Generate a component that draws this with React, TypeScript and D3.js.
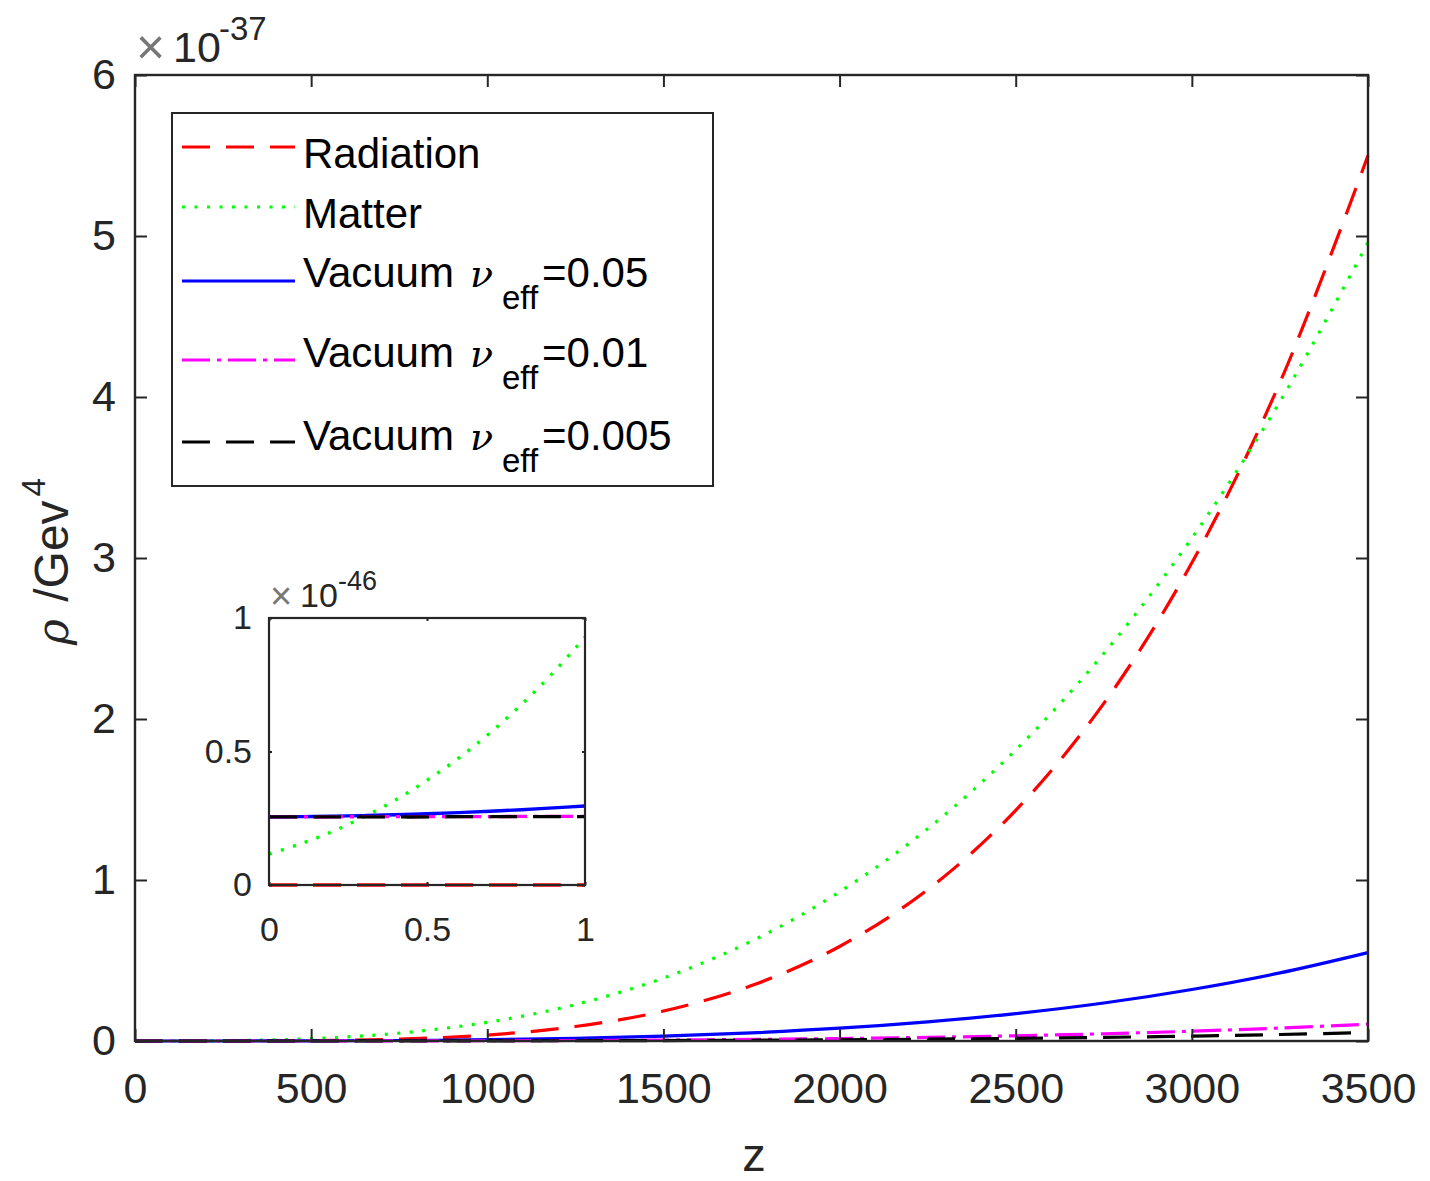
import { useEffect, useRef } from 'react';
import * as d3 from 'd3';

// main panel: z samples and rho values in units of 1e-37 GeV^4
const zMain = [0, 250, 500, 750, 1000, 1250, 1500, 1750, 2000, 2250, 2500, 2750, 3000, 3250, 3500];
const radiationMain = [0, 0.0001, 0.0023, 0.0116, 0.037, 0.09, 0.186, 0.344, 0.587, 0.94, 1.433, 2.097, 2.97, 4.09, 5.5];
const matterMain = [0, 0.0018, 0.0145, 0.049, 0.116, 0.226, 0.391, 0.62, 0.926, 1.318, 1.808, 2.407, 3.124, 3.971, 4.96];
const vac005Main = [0, 0.0001, 0.0009, 0.0032, 0.008, 0.0166, 0.0303, 0.0506, 0.0794, 0.119, 0.17, 0.236, 0.32, 0.423, 0.549];
const vac001Main = [0, 0.00002, 0.00017, 0.0006, 0.0015, 0.0032, 0.0058, 0.0096, 0.0151, 0.0226, 0.0324, 0.045, 0.0609, 0.0806, 0.1046];
const vac0005Main = [0, 0.00001, 0.00009, 0.0003, 0.0008, 0.0016, 0.0029, 0.0048, 0.0076, 0.0113, 0.0162, 0.0225, 0.0305, 0.0403, 0.0523];

// inset: z in [0,1], rho in units of 1e-46 GeV^4
const zInset = [0, 0.1, 0.2, 0.3, 0.4, 0.5, 0.6, 0.7, 0.8, 0.9, 1];
const radiationInset = [0, 0, 0, 0, 0, 0, 0, 0, 0, 0, 0];
const matterInset = [0.116, 0.154, 0.2, 0.255, 0.318, 0.392, 0.475, 0.57, 0.677, 0.796, 0.928];
const vac005Inset = [0.255, 0.256, 0.258, 0.26, 0.263, 0.267, 0.271, 0.276, 0.282, 0.289, 0.296];
const vac001Inset = [0.255, 0.255, 0.255, 0.256, 0.256, 0.256, 0.256, 0.256, 0.257, 0.257, 0.257];
const vac0005Inset = [0.255, 0.255, 0.255, 0.255, 0.255, 0.255, 0.256, 0.256, 0.256, 0.256, 0.256];

const xTicksMain = [0, 500, 1000, 1500, 2000, 2500, 3000, 3500];
const yTicksMain = [0, 1, 2, 3, 4, 5, 6];
const insetTicks = [0, 0.5, 1];

const seriesStyle = [
  { name: 'Radiation', color: '#ff0000', dash: '28 16', sub: null, val: null },
  { name: 'Matter', color: '#00ff00', dash: '3 9.5', sub: null, val: null },
  { name: 'Vacuum', color: '#0000ff', dash: null, sub: 'eff', val: '=0.05' },
  { name: 'Vacuum', color: '#ff00ff', dash: '28 7 4 7', sub: 'eff', val: '=0.01' },
  { name: 'Vacuum', color: '#000000', dash: '28 16', sub: 'eff', val: '=0.005' }
];

const AXIS = '#262626';
const SANS = 'Liberation Sans, Arial, Helvetica, sans-serif';
const SERIF = 'DejaVu Serif, Liberation Serif, serif';

const App = () => {
  const svgRef = useRef<SVGSVGElement | null>(null);

  useEffect(() => {
    const svg = d3.select(svgRef.current);
    svg.selectAll('*').remove();

    // ---------- main axes ----------
    const m = { left: 135, top: 75, right: 1368, bottom: 1041 };
    const x = d3.scaleLinear().domain([0, 3500]).range([m.left, m.right]);
    const y = d3.scaleLinear().domain([0, 6]).range([m.bottom, m.top]);

    const mainSeries = [radiationMain, matterMain, vac005Main, vac001Main, vac0005Main];
    const line = d3
      .line<number>()
      .x((_, i) => x(zMain[i]))
      .y(d => y(d))
      .curve(d3.curveCatmullRom.alpha(0.5));

    const main = svg.append('g');
    mainSeries.forEach((vals, k) => {
      main
        .append('path')
        .datum(vals)
        .attr('d', line)
        .attr('fill', 'none')
        .attr('stroke', seriesStyle[k].color)
        .attr('stroke-width', 3.2)
        .attr('stroke-dasharray', seriesStyle[k].dash)
        .attr('stroke-linecap', 'butt');
    });

    const styleAxis = (g, fs) => {
      g.select('.domain').remove();
      g.selectAll('line').attr('stroke', AXIS).attr('stroke-width', 2);
      g.selectAll('text').attr('fill', AXIS).style('font-family', SANS).style('font-size', fs + 'px');
    };

    svg
      .append('g')
      .attr('transform', `translate(0,${m.bottom})`)
      .call(d3.axisBottom(x).tickValues(xTicksMain).tickFormat(d3.format('d')).tickSizeInner(-12).tickSizeOuter(0).tickPadding(31))
      .call(g => styleAxis(g, 43));
    svg
      .append('g')
      .attr('transform', `translate(0,${m.top})`)
      .call(d3.axisTop(x).tickValues(xTicksMain).tickFormat(() => '').tickSizeInner(-12).tickSizeOuter(0))
      .call(g => styleAxis(g, 43));
    svg
      .append('g')
      .attr('transform', `translate(${m.left},0)`)
      .call(d3.axisLeft(y).tickValues(yTicksMain).tickFormat(d3.format('d')).tickSizeInner(-12).tickSizeOuter(0).tickPadding(19))
      .call(g => styleAxis(g, 43));
    svg
      .append('g')
      .attr('transform', `translate(${m.right},0)`)
      .call(d3.axisRight(y).tickValues(yTicksMain).tickFormat(() => '').tickSizeInner(-12).tickSizeOuter(0))
      .call(g => styleAxis(g, 43));

    svg
      .append('rect')
      .attr('x', m.left)
      .attr('y', m.top)
      .attr('width', m.right - m.left)
      .attr('height', m.bottom - m.top)
      .attr('fill', 'none')
      .attr('stroke', AXIS)
      .attr('stroke-width', 2.4);

    // exponent label
    const exp = svg.append('text').attr('fill', AXIS).style('font-family', SANS);
    exp.append('tspan').attr('x', 136).attr('y', 64).style('font-size', '50px').style('fill', '#777').text('×');
    exp.append('tspan').attr('x', 173).attr('y', 62).style('font-size', '43px').text('10');
    exp.append('tspan').attr('x', 219).attr('y', 40).style('font-size', '33px').text('-37');

    // axis labels
    svg
      .append('text')
      .attr('x', 754)
      .attr('y', 1171)
      .attr('text-anchor', 'middle')
      .attr('fill', AXIS)
      .style('font-family', SANS)
      .style('font-size', '47px')
      .text('z');

    const yl = svg
      .append('text')
      .attr('transform', 'translate(68,645) rotate(-90)')
      .attr('fill', AXIS)
      .style('font-size', '48px');
    yl.append('tspan').style('font-family', SERIF).style('font-style', 'italic').style('font-size', '44px').text('ρ');
    yl.append('tspan').attr('dx', 4).style('font-family', SANS).text(' /Gev');
    yl.append('tspan').attr('dx', 4).attr('dy', -23).style('font-family', SANS).style('font-size', '33px').text('4');

    // ---------- legend ----------
    const lg = svg.append('g');
    lg.append('rect')
      .attr('x', 172)
      .attr('y', 113)
      .attr('width', 541)
      .attr('height', 373)
      .attr('fill', '#fff')
      .attr('stroke', AXIS)
      .attr('stroke-width', 2);
    const rowLine = [147, 207, 281, 360, 442];
    const rowBase = [168, 228, 287, 367, 450];
    seriesStyle.forEach((s, k) => {
      lg.append('line')
        .attr('x1', 182)
        .attr('x2', 295)
        .attr('y1', rowLine[k])
        .attr('y2', rowLine[k])
        .attr('stroke', s.color)
        .attr('stroke-width', 3)
        .attr('stroke-dasharray', s.dash);
      const t = lg.append('text').attr('fill', '#000').style('font-family', SANS).style('font-size', '42px');
      t.append('tspan').attr('x', 303).attr('y', rowBase[k]).text(s.name);
      if (s.sub) {
        t.append('tspan').attr('x', 470).attr('y', rowBase[k]).style('font-family', SERIF).style('font-style', 'italic').style('font-weight', '300').style('font-size', '38px').text('ν');
        t.append('tspan').attr('x', 502).attr('y', rowBase[k] + 22).style('font-size', '33px').text(s.sub);
        t.append('tspan').attr('x', 542).attr('y', rowBase[k]).text(s.val);
      }
    });

    // ---------- inset ----------
    const n = { left: 269, top: 618, right: 585, bottom: 885 };
    const xi = d3.scaleLinear().domain([0, 1]).range([n.left, n.right]);
    const yi = d3.scaleLinear().domain([0, 1]).range([n.bottom, n.top]);
    svg
      .append('rect')
      .attr('x', n.left)
      .attr('y', n.top)
      .attr('width', n.right - n.left)
      .attr('height', n.bottom - n.top)
      .attr('fill', '#fff');

    const insetSeries = [radiationInset, matterInset, vac005Inset, vac001Inset, vac0005Inset];
    const lineI = d3
      .line<number>()
      .x((_, i) => xi(zInset[i]))
      .y(d => yi(d))
      .curve(d3.curveCatmullRom.alpha(0.5));
    const inset = svg.append('g');
    insetSeries.forEach((vals, k) => {
      inset
        .append('path')
        .datum(vals)
        .attr('d', lineI)
        .attr('fill', 'none')
        .attr('stroke', seriesStyle[k].color)
        .attr('stroke-width', 3.4)
        .attr('stroke-dasharray', seriesStyle[k].dash);
    });

    svg
      .append('g')
      .attr('transform', `translate(0,${n.bottom})`)
      .call(d3.axisBottom(xi).tickValues(insetTicks).tickFormat(d3.format('')).tickSizeInner(-3).tickSizeOuter(0).tickPadding(32))
      .call(g => styleAxis(g, 34));
    svg
      .append('g')
      .attr('transform', `translate(0,${n.top})`)
      .call(d3.axisTop(xi).tickValues(insetTicks).tickFormat(() => '').tickSizeInner(-3).tickSizeOuter(0))
      .call(g => styleAxis(g, 34));
    svg
      .append('g')
      .attr('transform', `translate(${n.left},0)`)
      .call(d3.axisLeft(yi).tickValues(insetTicks).tickFormat(d3.format('')).tickSizeInner(-3).tickSizeOuter(0).tickPadding(17))
      .call(g => styleAxis(g, 34));
    svg
      .append('g')
      .attr('transform', `translate(${n.right},0)`)
      .call(d3.axisRight(yi).tickValues(insetTicks).tickFormat(() => '').tickSizeInner(-3).tickSizeOuter(0))
      .call(g => styleAxis(g, 34));
    svg
      .append('rect')
      .attr('x', n.left)
      .attr('y', n.top)
      .attr('width', n.right - n.left)
      .attr('height', n.bottom - n.top)
      .attr('fill', 'none')
      .attr('stroke', AXIS)
      .attr('stroke-width', 2.2);

    const expI = svg.append('text').attr('fill', AXIS).style('font-family', SANS);
    expI.append('tspan').attr('x', 270).attr('y', 609).style('font-size', '38px').style('fill', '#777').text('×');
    expI.append('tspan').attr('x', 300).attr('y', 607).style('font-size', '34px').text('10');
    expI.append('tspan').attr('x', 338).attr('y', 590).style('font-size', '27px').text('-46');
  }, []);

  return (
    <svg
      ref={svgRef}
      width={1430}
      height={1181}
      style={{ position: 'absolute', left: 0, top: 0, background: '#fff' }}
    />
  );
};

export default App;
